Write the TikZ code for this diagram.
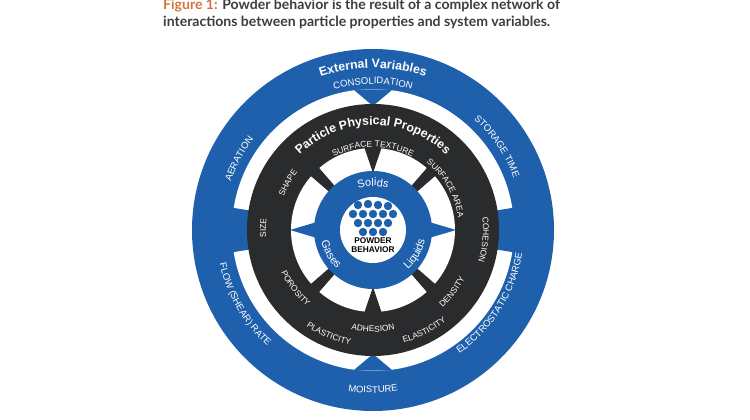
\documentclass[tikz,border=0pt]{standalone}
\usepackage{fontspec}
\setmainfont{Lato}
\newfontfamily\lblfont{Liberation Sans}
\usetikzlibrary{decorations.text}
\definecolor{pblue}{HTML}{1F60AD}
\definecolor{pdark}{HTML}{2A2B2D}
\definecolor{figorange}{HTML}{D0763F}
\definecolor{capgray}{HTML}{3D3D3F}
% annular piece between radii #2 and #3, angles #4 to #5
\def\ringpart[#1](#2:#3)(#4:#5){\fill[#1] (#4:#3) arc (#4:#5:#3) -- (#5:#2) arc (#5:#4:#2) -- cycle;}
% white text set along an arc of radius #2
\def\arclabel[#1](#2)(#3:#4)#5{\path[decorate,decoration={text along path,text align=center,text color=white,text={|#1|#5}}] (#3:#2) arc (#3:#4:#2);}
\def\smalllbl{\lblfont\fontsize{8.4}{9}\selectfont}
\def\midlbl{\lblfont\fontsize{9.5}{10}\selectfont}

\begin{document}
\begin{tikzpicture}[x=1pt,y=1pt]
			%%%%% START %%%%%
			\useasboundingbox (-373,-190) rectangle (377,230);
			
			\node[anchor=base west, inner sep=0, text=capgray, font=\fontsize{14.05}{16}\bfseries] (cap1) at (-210,220) {\textcolor{figorange}{Figure 1:} Powder behavior is the result of a complex network of};
			\node[anchor=base west, inner sep=0, text=capgray, font=\fontsize{14.05}{16}\bfseries] (cap2) at (-210,203) {interactions between particle properties and system variables.};
			
			% external ring
			\fill[pblue] (0,0) circle (181);
			\fill[white] (0,0) circle (141);
			\fill[pblue] (82:142) -- (90:124) -- (98:142) -- cycle;
			\fill[pblue] (262:142) -- (270:124) -- (278:142) -- cycle;
			\ringpart[pblue](124:142)(171:189)
			\ringpart[pblue](124:142)(-9:9)
			
			% particle ring
			\fill[pdark] (0,0) circle (126);
			\fill[white] (0,0) circle (82);
			\ringpart[pdark](56:83)(41:49)
			\ringpart[pdark](56:83)(131:139)
			\ringpart[pdark](56:83)(221:229)
			\ringpart[pdark](56:83)(311:319)
			\fill[pdark] (84:83) -- (90:57) -- (96:83) -- cycle;
			\fill[pdark] (264:83) -- (270:57) -- (276:83) -- cycle;
			\fill[pblue] (-8:57) -- (0:83) -- (8:57) -- cycle;
			\fill[pblue] (172:57) -- (180:83) -- (188:57) -- cycle;
			
			% phases ring and core
			\fill[pblue] (0,0) circle (59);
			\fill[white] (0,0) circle (33);
			\foreach \px/\py in {-15/25,-5/26,5/25,15/24,
			                     -20/16,-10/16,0/16,10/16,20/16,
			                     -15/7,-5/7,5/7,15/7,
			                     -10/-2,0/-2,10/-2}
			  \fill[pblue] (\px,\py) circle (4.2);
			\node[font=\lblfont\fontsize{8.3}{9}\bfseries, align=center, inner sep=0] (core) at (0,-15) {POWDER\\BEHAVIOR};
			
			% external variables
			\arclabel[\lblfont\fontsize{12.3}{13}\bfseries](162)(150:30){External Variables}
			\arclabel[\midlbl](146)(150:30){CONSOLIDATION}
			\arclabel[\midlbl](150)(202:102){AERATION}
			\arclabel[\midlbl](150)(84:-16){STORAGE TIME}
			\arclabel[\midlbl](151)(-92:28){ELECTROSTATIC CHARGE}
			\arclabel[\midlbl](163)(-140:-40){MOISTURE}
			\arclabel[\midlbl](157)(-210:-90){FLOW (SHEAR) RATE}
			
			% particle properties
			\arclabel[\lblfont\fontsize{12.3}{13}\bfseries](105)(160:20){Particle Physical Properties}
			\arclabel[\smalllbl](83)(140:40){SURFACE TEXTURE}
			\arclabel[\smalllbl](95)(191:111){SHAPE}
			\arclabel[\smalllbl](86)(70:-10){SURFACE AREA}
			\arclabel[\smalllbl](107)(219:139){SIZE}
			\arclabel[\smalllbl](110)(35:-45){COHESION}
			\arclabel[\smalllbl](101)(-183:-103){POROSITY}
			\arclabel[\smalllbl](102)(-130:-50){ADHESION}
			\arclabel[\smalllbl](104)(-78:2){DENSITY}
			\arclabel[\smalllbl](117)(-153:-73){PLASTICITY}
			\arclabel[\smalllbl](117)(-103:-23){ELASTICITY}
			
			% phases
			\arclabel[\lblfont\fontsize{11}{12}\selectfont](44)(150:30){Solids}
			\arclabel[\lblfont\fontsize{11}{12}\selectfont](53)(-200:-100){Gases}
			\arclabel[\lblfont\fontsize{11}{12}\selectfont](53)(-80:20){Liquids}
			%%%%% END %%%%%
\end{tikzpicture}
\end{document}
